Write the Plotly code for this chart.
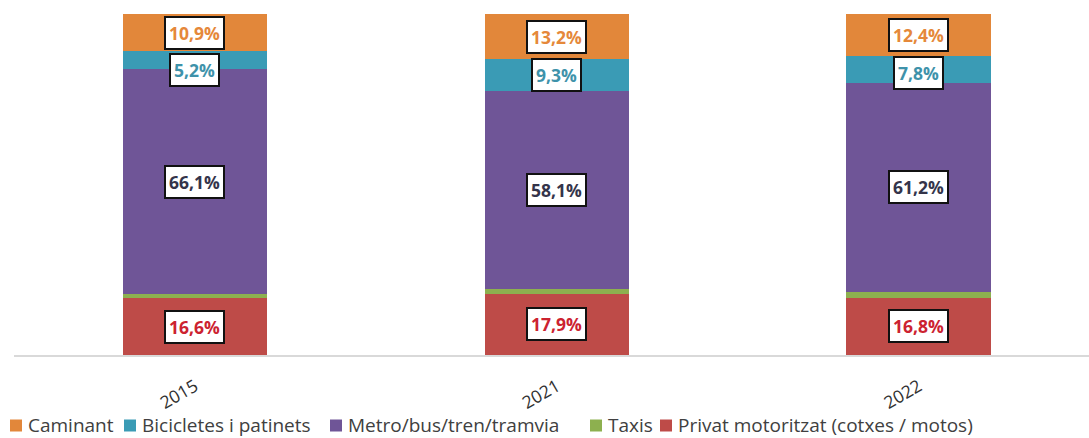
import plotly.graph_objects as go

years = ["2015", "2021", "2022"]
privat = [16.6, 17.9, 16.8]
taxis = [1.2, 1.5, 1.8]
metro = [66.1, 58.1, 61.2]
bicicletes = [5.2, 9.3, 7.8]
caminant = [10.9, 13.2, 12.4]

# bottom-to-top stacking order: name, values, fill, label colour, labelled
series = [
    ("Privat motoritzat (cotxes / motos)", privat, "#BE4B48", "#CC2230", True),
    ("Taxis", taxis, "#8DB04F", None, False),
    ("Metro/bus/tren/tramvia", metro, "#6F5597", "#34344A", True),
    ("Bicicletes i patinets", bicicletes, "#3A9BB5", "#3E92AA", True),
    ("Caminant", caminant, "#E2873A", "#E5883A", True),
]
legend_order = [4, 3, 2, 1, 0]
legend_x = [10, 124, 330, 590, 660]  # left edge of each legend swatch, px

FONT = "Open Sans"
W, H = 1089, 438
ML, MR, MT, MB = 14, 0, 14, 83

fig = go.Figure()
for name, vals, col, _, _ in series:
    fig.add_trace(go.Bar(
        x=list(range(len(years))), y=vals, name=name,
        marker=dict(color=col, line=dict(width=0)), width=0.4, showlegend=False,
    ))

# value labels centred in each segment, pushed down when too close to the label above
min_gap = 11.0
for i in range(len(years)):
    base = 0.0
    spots = []
    for name, vals, col, tcol, show in series:
        mid = base + vals[i] / 2
        base += vals[i]
        if show:
            spots.append([mid, vals[i], tcol])
    spots.sort(key=lambda s: -s[0])
    for k in range(1, len(spots)):
        if spots[k - 1][0] - spots[k][0] < min_gap:
            spots[k][0] = spots[k - 1][0] - min_gap
    for y, v, tcol in spots:
        fig.add_annotation(
            x=i, y=y, xref="x", yref="y",
            text="<b>" + f"{v:.1f}".replace(".", ",") + "%</b>",
            showarrow=False, font=dict(family=FONT, size=17.5, color=tcol),
            bgcolor="white", bordercolor="#111111", borderwidth=2, borderpad=3,
        )

# legend drawn as swatch + text along the bottom
pw = W - ML - MR
ph = H - MT - MB


def py(px_y):
    return (H - MB - px_y) / ph


for k, lx in zip(legend_order, legend_x):
    name, _, col, _, _ = series[k]
    fig.add_shape(
        type="rect", xref="paper", yref="paper",
        x0=(lx - ML) / pw, x1=(lx + 12 - ML) / pw,
        y0=py(419.5), y1=py(431.5),
        fillcolor=col, line=dict(width=0),
    )
    fig.add_annotation(
        x=(lx + 16 - ML) / pw, y=py(425),
        xref="paper", yref="paper", xanchor="left", yanchor="middle",
        text=name, showarrow=False,
        font=dict(family=FONT, size=19, color="#404040"),
    )

fig.update_layout(
    barmode="stack",
    width=W, height=H,
    margin=dict(l=ML, r=MR, t=MT, b=MB, autoexpand=False),
    paper_bgcolor="white", plot_bgcolor="white",
    font=dict(family=FONT, size=15, color="#404040"),
    showlegend=False,
    xaxis=dict(
        range=[-0.5, 2.47], showgrid=False, zeroline=False, showline=True,
        linecolor="#D9D9D9", linewidth=1.5, tickangle=-30, ticks="",
        tickmode="array", tickvals=list(range(len(years))), ticktext=years,
        tickfont=dict(family=FONT, size=17.5, color="#303030"),
        ticklabelstandoff=13, automargin=False,
    ),
    yaxis=dict(range=[0, 100], visible=False, automargin=False),
)

fig.write_html("out.html")
